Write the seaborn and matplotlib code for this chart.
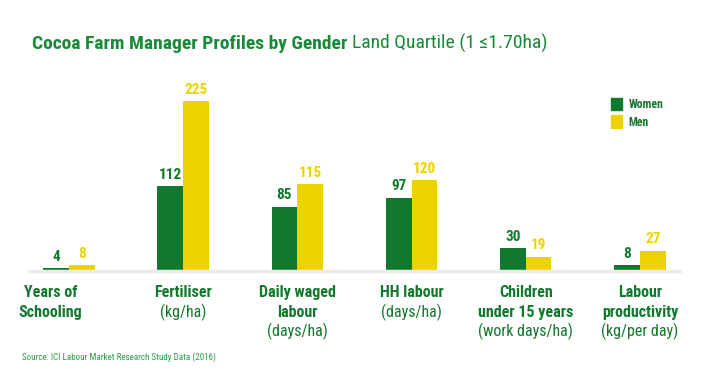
import matplotlib
matplotlib.use("Agg")
import matplotlib.pyplot as plt
import matplotlib.patches as mpatches
import matplotlib.transforms as mtrans
import seaborn as sns
import pandas as pd

categories = ["Years of Schooling", "Fertiliser", "Daily waged labour",
              "HH labour", "Children under 15 years", "Labour productivity"]
women = [4, 112, 85, 97, 30, 8]
men = [8, 225, 115, 120, 19, 27]
label_bold = ["Years of\nSchooling", "Fertiliser", "Daily waged\nlabour",
              "HH labour", "Children\nunder 15 years", "Labour\nproductivity"]
label_unit = ["", "(kg/ha)", "(days/ha)", "(days/ha)", "(work days/ha)", "(kg/per day)"]

GREEN = "#11782d"
YELLOW = "#ecd300"
TITLE_GREEN = "#168a38"

sns.set_theme(style="white")
FAM = ["Roboto Condensed", "Archivo Narrow", "Liberation Sans Narrow", "Roboto", "DejaVu Sans"]
plt.rcParams["font.family"] = FAM

df = pd.DataFrame({
    "category": categories * 2,
    "value": women + men,
    "gender": ["Women"] * len(categories) + ["Men"] * len(categories),
})

fig = plt.figure(figsize=(7.1, 3.8), dpi=100)
ax = fig.add_axes([30 / 710, 1 - 271 / 380, 650 / 710, 190 / 380])

sns.barplot(data=df, x="category", y="value", hue="gender",
            hue_order=["Women", "Men"], palette=[GREEN, YELLOW],
            width=0.45, gap=0, saturation=1, legend=False, ax=ax,
            edgecolor="none", linewidth=0)

ax.set_xlim(-0.34, 5.35)
ax.set_ylim(0, 251)
ax.set_xticks([])
ax.set_yticks([])
ax.set_xlabel("")
ax.set_ylabel("")
for s in ["top", "right", "left"]:
    ax.spines[s].set_visible(False)
ax.spines["bottom"].set_color("#ebebeb")
ax.spines["bottom"].set_linewidth(2.5)

for cont, col in zip(ax.containers, [GREEN, YELLOW]):
    ax.bar_label(cont, labels=[f"{int(v.get_height())}" for v in cont],
                 padding=3, color=col, fontsize=11, fontweight="bold", family=FAM)

trans = mtrans.blended_transform_factory(ax.transData, fig.transFigure)
for i, (b, u) in enumerate(zip(label_bold, label_unit)):
    xpos = i - 0.16 if i == 0 else i
    ax.text(xpos, 1 - 285 / 380, b, transform=trans, ha="center", va="top",
            fontsize=11.5, fontweight="bold", color=GREEN, linespacing=1.38, family=FAM)
    nlines = b.count("\n") + 1
    if u:
        ax.text(xpos, 1 - (285 + 19 * nlines) / 380, u, transform=trans, ha="center",
                va="top", fontsize=11.5, color=GREEN, family=FAM)

# title
t1 = fig.text(32 / 710, 1 - 49 / 380, "Cocoa Farm Manager Profiles by Gender",
              fontsize=14, fontweight="bold", color=TITLE_GREEN, va="baseline", family=FAM)
fig.canvas.draw()
bb = t1.get_window_extent()
fig.text((bb.x1 + 5) / 710, 1 - 49 / 380, "Land Quartile (1 \u22641.70ha)",
         fontsize=14, color=TITLE_GREEN, va="baseline", family=FAM)

# legend
handles = [mpatches.Patch(color=GREEN, label="Women"),
           mpatches.Patch(color=YELLOW, label="Men")]
leg = fig.legend(handles=handles, loc="upper left",
                 bbox_to_anchor=(600 / 710, 1 - 87 / 380), frameon=False,
                 handlelength=1.0, handleheight=1.3, handletextpad=0.5,
                 labelspacing=0.35, prop={"family": FAM, "weight": "bold", "size": 8.5})
for txt in leg.get_texts():
    txt.set_color(GREEN)

fig.text(22 / 710, 1 - 357 / 380, "Source: ICI Labour Market Research Study Data (2016)",
         fontsize=6.5, color="#2f9a48", va="center", family=FAM)

fig.savefig("out.png", dpi=100, facecolor="white")
